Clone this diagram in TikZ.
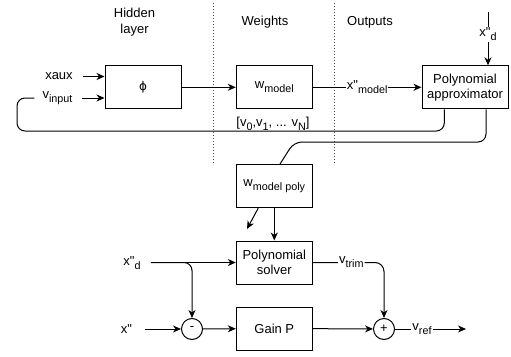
\documentclass[tikz,border=0pt]{standalone}
\usepackage{fontspec}
\newfontfamily\diag{Liberation Sans}
\newfontfamily\greek{DejaVu Sans}
\usetikzlibrary{arrows.meta}
% lowered, smaller text for subscripts
\newcommand\lowsub[1]{\raisebox{-0.32em}{\fontsize{10.8}{12}\selectfont #1}}

\begin{document}
\begin{tikzpicture}[x=1pt,y=-1pt,
  every node/.style={font=\diag\fontsize{13}{15}\selectfont, text=black},
  blk/.style={draw, line width=1pt, minimum width=76pt, minimum height=43pt, inner sep=2pt, align=center},
  txt/.style={inner sep=0pt, align=center},
  elbl/.style={fill=white, inner sep=1pt},
  wire/.style={line width=1pt},
  arr/.style={wire, -{Stealth[length=8pt,width=7pt,inset=2.5pt]}},
  sumc/.style={draw, circle, line width=1pt, minimum size=21pt, inner sep=0pt},
  divider/.style={line width=1pt, dotted, black!70}]

\path[use as bounding box] (0,0) rectangle (511,356);

% column headings and separators
\node[txt] (hid) at (134.5,22) {Hidden\\[1pt]layer};
\node[txt] (wts) at (265,22) {Weights};
\node[txt] (outs) at (370,22) {Outputs};
\coordinate (d1a) at (213.5,3);  \coordinate (d1b) at (213.5,165);
\coordinate (d2a) at (334.5,3);  \coordinate (d2b) at (334.5,165);
\draw[divider] (d1a) -- (d1b);
\draw[divider] (d2a) -- (d2b);

% blocks
\node[blk] (phi) at (143,87.3) {{\greek\fontsize{12}{14}\selectfont\char"03D5}};
\node[blk] (wm) at (274.3,87.3) {w\lowsub{model}};
\node[blk, minimum width=86pt] (pa) at (465,87.3) {Polynomial\\approximator};
\node[blk] (wmp) at (274.3,186) {w\lowsub{model poly}};
\node[blk] (ps) at (274.3,262.5) {Polynomial\\solver};
\node[blk] (gp) at (274.3,328.5) {Gain P};
\node[sumc] (mn) at (192,329) {-};
\node[sumc] (pl) at (384,329) {+};

% free-standing labels
\node[txt] (xa) at (59,76.5) {xaux};
\node[txt] (vin) at (57.5,98) {v\lowsub{input}};
\node[txt] (vec) at (273,123.5) {[v\lowsub{0},v\lowsub{1}, ... v\lowsub{N}]};
\node[txt] (xd2) at (132,263) {x"\lowsub{d}};
\node[txt] (xpp) at (126.5,329) {x"};
\coordinate (xdtop) at (488,12);
\coordinate (vout) at (466,329);
\coordinate (loose) at (247,229);

% network path
\draw[arr, shorten <=10pt] (xa.east) -- (xa.east -| phi.west);
\draw[arr, shorten <=9pt] (vin.east) -- (vin.east -| phi.west);
\draw[arr] (phi) -- (wm);
\draw[arr] (wm) -- node[elbl] {x"\lowsub{model}} (pa);
\draw[arr] (xdtop) -- node[elbl, pos=0.42] {x"\lowsub{d}} (xdtop |- pa.north);

% feedback of the approximator to the input
\draw[wire, rounded corners=8pt] ([xshift=-20.7pt]pa.south) |- (17,131) |- ([xshift=-8pt]vin.west);
% polynomial weights
\draw[wire, rounded corners=8pt] ([xshift=21pt]pa.south) -- (486,142) -- (294,142) -- ([xshift=5.7pt]wmp.north);

\draw[arr] ([xshift=-16pt]wmp.south) -- (loose);
\draw[arr] (wmp) -- (ps);

% controller
\draw[arr, shorten <=10pt] (xd2.east |- ps.west) -- (ps.west);
\draw[arr, rounded corners=8pt, shorten <=10pt] (xd2.east |- ps.west) -| (mn.north);
\draw[arr, shorten <=13pt] (xpp.east) -- (mn.west);
\draw[arr] (mn) -- (gp);
\draw[arr] (gp) -- (pl);
\draw[arr, rounded corners=9pt] (ps.east) -| node[elbl, pos=0.27] {v\lowsub{trim}} (pl.north);
\draw[arr] (pl) -- node[elbl, pos=0.38] {v\lowsub{ref}} (vout);
\end{tikzpicture}
\end{document}
